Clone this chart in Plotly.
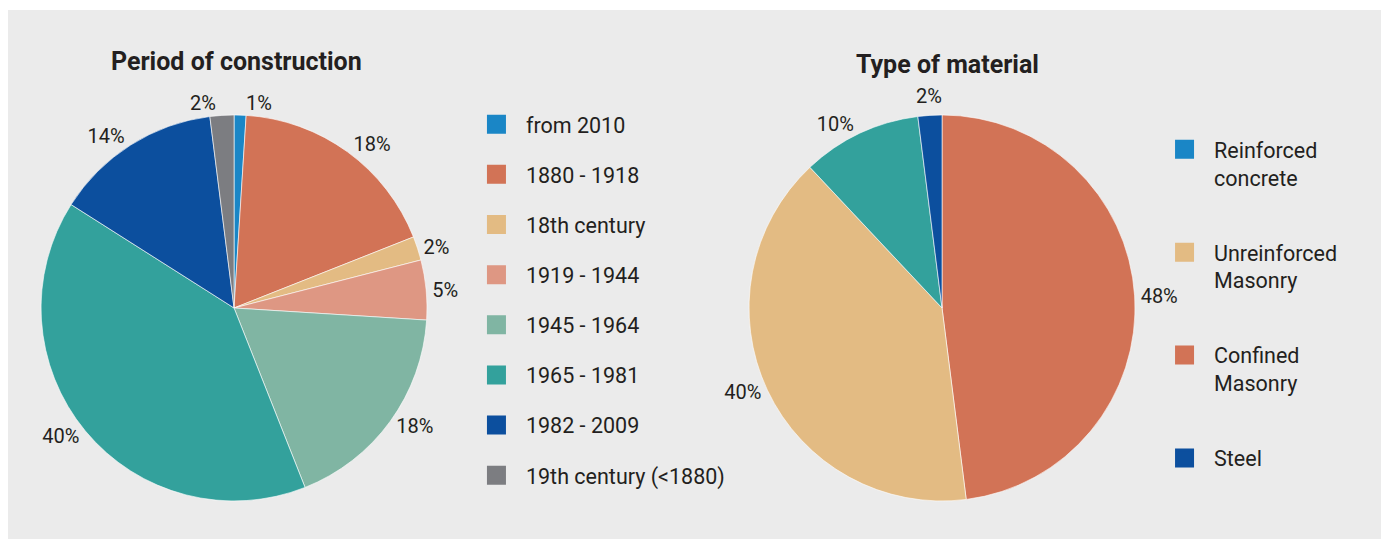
import math
import plotly.graph_objects as go

# Period of construction (clockwise from 12 o'clock)
period_labels = ["from 2010", "1880 - 1918", "18th century", "1919 - 1944",
                 "1945 - 1964", "1965 - 1981", "1982 - 2009", "19th century (<1880)"]
period_values = [1, 18, 2, 5, 18, 40, 14, 2]
period_colors = ["#1a86c6", "#d27356", "#e3bb83", "#de9783",
                 "#80b5a3", "#33a19c", "#0c4f9e", "#7c7d81"]

# Type of material (slices clockwise from 12 o'clock)
material_labels = ["Confined Masonry", "Unreinforced Masonry", "Reinforced concrete", "Steel"]
material_values = [48, 40, 10, 2]
material_colors = ["#d27356", "#e3bb83", "#33a19c", "#0c4f9e"]

# legend of the second chart as printed
material_legend = ["Reinforced<br>concrete", "Unreinforced<br>Masonry", "Confined<br>Masonry", "Steel"]
material_legend_colors = ["#1a86c6", "#e3bb83", "#d27356", "#0c4f9e"]

FONT = "Roboto"
TXT = "#231f20"
W, H = 1381, 539
MARGIN = dict(l=0, r=4, t=2, b=0)
PLOT_W = W - MARGIN["l"] - MARGIN["r"]
PLOT_H = H - MARGIN["t"] - MARGIN["b"]

dom1 = dict(x=[0.0240, 0.3043], y=[0.0857, 0.8045])
dom2 = dict(x=[0.5381, 0.8185], y=[0.0857, 0.8045])

fig = go.Figure()

fig.add_trace(go.Pie(
    labels=period_labels, values=period_values, sort=False,
    direction="clockwise", rotation=0,
    marker=dict(colors=period_colors, line=dict(color="white", width=0.6)),
    texttemplate="%{value}%", textposition="outside",
    outsidetextfont=dict(family=FONT, size=20, color=TXT),
    domain=dom1, showlegend=False, hoverinfo="label+percent",
))

# the tiny steel slice gets its label as an annotation (avoids plotly's leader line)
fig.add_trace(go.Pie(
    labels=material_labels, values=material_values, sort=False,
    direction="clockwise", rotation=0,
    marker=dict(colors=material_colors, line=dict(color="white", width=0.6)),
    texttemplate="%{value}%",
    textposition=["outside", "outside", "outside", "none"],
    outsidetextfont=dict(family=FONT, size=20, color=TXT),
    domain=dom2, showlegend=False, hoverinfo="label+percent",
))

# label position of the steel slice from its mid angle
tot = sum(material_values)
mid = 360 * (sum(material_values[:3]) + material_values[3] / 2) / tot
cx = sum(dom2["x"]) / 2
cy = sum(dom2["y"]) / 2
rad = min((dom2["x"][1] - dom2["x"][0]) * PLOT_W, (dom2["y"][1] - dom2["y"][0]) * PLOT_H) / 2
r_lab = rad * 1.10
fig.add_annotation(
    text=f"{material_values[3]}%", xref="paper", yref="paper", showarrow=False,
    x=cx + r_lab * math.sin(math.radians(mid)) / PLOT_W,
    y=cy + r_lab * math.cos(math.radians(mid)) / PLOT_H,
    xanchor="center", yanchor="middle",
    font=dict(family=FONT, size=20, color=TXT),
)

# legend entries
for i, (name, col) in enumerate(zip(period_labels, period_colors)):
    fig.add_trace(go.Scatter(
        x=[None], y=[None], mode="markers", name=name, legend="legend",
        legendgroup=f"p{i}",
        marker=dict(symbol="square", size=16, color=col, line=dict(color=col, width=3)),
    ))

for i, (name, col) in enumerate(zip(material_legend, material_legend_colors)):
    fig.add_trace(go.Scatter(
        x=[None], y=[None], mode="markers", name=name, legend="legend2",
        legendgroup=f"m{i}",
        marker=dict(symbol="square", size=16, color=col, line=dict(color=col, width=3)),
    ))

fig.add_annotation(text="<b>Period of construction</b>", x=0.1656, y=0.9032,
                   xref="paper", yref="paper", showarrow=False,
                   xanchor="center", yanchor="middle",
                   font=dict(family=FONT, size=25, color=TXT))
fig.add_annotation(text="<b>Type of material</b>", x=0.6826, y=0.8994,
                   xref="paper", yref="paper", showarrow=False,
                   xanchor="center", yanchor="middle",
                   font=dict(family=FONT, size=25, color=TXT))

fig.update_layout(
    width=W, height=H,
    margin=MARGIN,
    paper_bgcolor="white",
    plot_bgcolor="#ebebeb",
    xaxis=dict(visible=False, showgrid=False, zeroline=False),
    yaxis=dict(visible=False, showgrid=False, zeroline=False),
    legend=dict(x=0.3333, y=0.8255, xanchor="left", yanchor="top",
                bgcolor="rgba(0,0,0,0)", itemwidth=49, tracegroupgap=19.2,
                font=dict(family=FONT, size=21.5, color=TXT), itemclick=False),
    legend2=dict(x=0.8330, y=0.7788, xanchor="left", yanchor="top",
                 bgcolor="rgba(0,0,0,0)", itemwidth=49, tracegroupgap=44,
                 valign="top",
                 font=dict(family=FONT, size=21.5, color=TXT), itemclick=False),
)

fig.write_html("out.html")
